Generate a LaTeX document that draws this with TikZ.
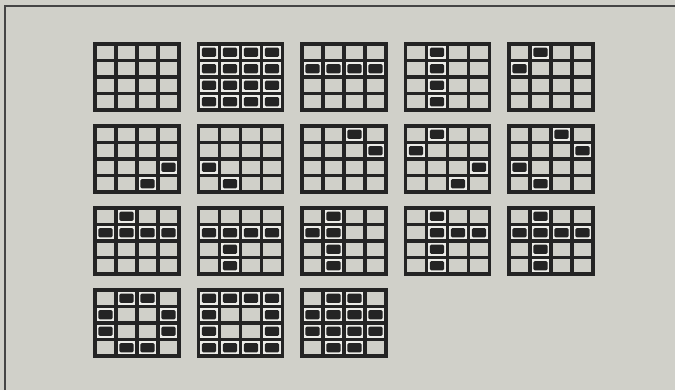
\documentclass[tikz,border=0pt]{standalone}
\usepackage{xcolor}
\definecolor{paper}{RGB}{208,208,201}
\definecolor{ink}{RGB}{36,36,36}
\definecolor{halocol}{RGB}{236,236,232}

% one 4x4 panel: lines only
\newcommand{\lampframe}[2]{%
  \begin{scope}[shift={(#1,#2)}]
    \foreach \i in {0,...,4} {
      \draw[gridline] (\i*21,0) -- (\i*21,66);
      \draw[gridline] (0,\i*16.5) -- (84,\i*16.5);
    }
  \end{scope}}
% panel with lit cells, list of row/col
\newcommand{\lampgrid}[3]{%
  \begin{scope}[shift={(#1,#2)}]
    \foreach \r/\c in {#3} {
      \fill[halo] (\c*21+1.8,\r*16.5+1.8) rectangle (\c*21+19.2,\r*16.5+14.7);
      \fill[lamp] (\c*21+3.4,\r*16.5+3.7) rectangle (\c*21+17.6,\r*16.5+12.8);
    }
  \end{scope}
  \lampframe{#1}{#2}}

\begin{document}
\begin{tikzpicture}[x=1pt, y=-1pt,
    gridline/.style={line width=3.1pt, draw=ink, line cap=rect},
    lamp/.style={fill=ink, rounded corners=1.2pt},
    halo/.style={fill=halocol},
]
\useasboundingbox (0,0) rectangle (675,390);
\fill[paper] (0,0) rectangle (675,390);
\draw[line width=1.4pt, draw=ink!85] (5,390) -- (5,6) -- (675,6);

% row 1
\lampframe{95}{44}
\lampgrid{198.5}{44}{0/0,0/1,0/2,0/3,1/0,1/1,1/2,1/3,2/0,2/1,2/2,2/3,3/0,3/1,3/2,3/3}
\lampgrid{302}{44}{1/0,1/1,1/2,1/3}
\lampgrid{405.5}{44}{0/1,1/1,2/1,3/1}
\lampgrid{509}{44}{0/1,1/0}

% row 2
\lampgrid{95}{126}{2/3,3/2}
\lampgrid{198.5}{126}{2/0,3/1}
\lampgrid{302}{126}{0/2,1/3}
\lampgrid{405.5}{126}{0/1,1/0,2/3,3/2}
\lampgrid{509}{126}{0/2,1/3,2/0,3/1}

% row 3
\lampgrid{95}{208}{0/1,1/0,1/1,1/2,1/3}
\lampgrid{198.5}{208}{1/0,1/1,1/2,1/3,2/1,3/1}
\lampgrid{302}{208}{0/1,1/0,1/1,2/1,3/1}
\lampgrid{405.5}{208}{0/1,1/1,1/2,1/3,2/1,3/1}
\lampgrid{509}{208}{0/1,1/0,1/1,1/2,1/3,2/1,3/1}

% row 4
\lampgrid{95}{290}{0/1,0/2,1/0,1/3,2/0,2/3,3/1,3/2}
\lampgrid{198.5}{290}{0/0,0/1,0/2,0/3,1/0,1/3,2/0,2/3,3/0,3/1,3/2,3/3}
\lampgrid{302}{290}{0/1,0/2,1/0,1/1,1/2,1/3,2/0,2/1,2/2,2/3,3/1,3/2}
\end{tikzpicture}
\end{document}
